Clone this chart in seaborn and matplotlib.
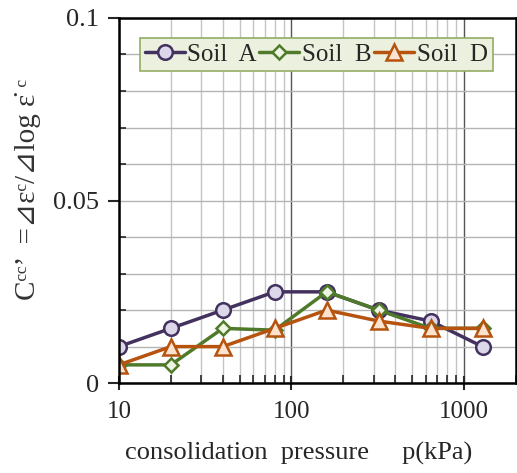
import numpy as np
import pandas as pd
import matplotlib
matplotlib.use('Agg')
import matplotlib.pyplot as plt
import matplotlib.ticker as mticker
import seaborn as sns

# data
pressure = [10, 20, 40, 80, 160, 320, 640, 1280]
soil_a = [0.010, 0.015, 0.020, 0.025, 0.025, 0.020, 0.017, 0.010]
soil_b = [0.005, 0.005, 0.015, 0.0145, 0.025, 0.020, 0.015, 0.015]
soil_d = [0.005, 0.010, 0.010, 0.015, 0.020, 0.017, 0.015, 0.015]

sns.set_style('white')
plt.rcParams['font.family'] = ['Liberation Serif', 'DejaVu Serif', 'DejaVu Sans']

fig = plt.figure(figsize=(5.17, 4.73), dpi=100)
ax = fig.add_axes([0.230, 0.190, 0.768, 0.772])

styles = [
    ('Soil  A', soil_a, 'o', '#43325f', '#ddd7ea', 10.5),
    ('Soil  B', soil_b, 'D', '#4f7a2a', '#eef5e3', 7.5),
    ('Soil  D', soil_d, '^', '#b5530f', '#fde2cd', 11),
]
for name, vals, mk, col, face, ms in styles:
    sns.lineplot(x=pressure, y=vals, ax=ax, label=name, color=col, lw=2.5,
                 marker=mk, markersize=ms, markerfacecolor=face,
                 markeredgecolor=col, markeredgewidth=1.8)

ax.set_xscale('log')
ax.set_xlim(10, 2000)
ax.set_ylim(0, 0.1)

ax.xaxis.set_major_locator(mticker.FixedLocator([10, 100, 1000]))
ax.xaxis.set_major_formatter(mticker.FixedFormatter(['10', '100', '1000']))
ax.xaxis.set_minor_locator(mticker.LogLocator(base=10, subs=np.arange(2, 10)))
ax.xaxis.set_minor_formatter(mticker.NullFormatter())
ax.yaxis.set_major_locator(mticker.FixedLocator([0, 0.05, 0.1]))
ax.yaxis.set_major_formatter(mticker.FixedFormatter(['0', '0.05', '0.1']))
ax.yaxis.set_minor_locator(mticker.MultipleLocator(0.01))

ax.grid(True, axis='x', which='major', color='#555555', lw=1.0)
ax.grid(True, axis='x', which='minor', color='#c4c4c4', lw=1.0)
ax.grid(True, axis='y', which='both', color='#b4b4b4', lw=1.0)
ax.set_axisbelow(True)

ax.tick_params(axis='x', which='major', direction='inout', length=10, width=1.5,
               labelsize=18, pad=8)
ax.tick_params(axis='x', which='minor', direction='in', length=6, width=1.2)
ax.tick_params(axis='y', which='major', direction='out', length=8, width=1.5,
               labelsize=19, pad=6)
ax.tick_params(axis='y', which='minor', direction='in', length=5, width=1.2)
ax.xaxis.set_ticks_position('bottom')
ax.yaxis.set_ticks_position('left')

for side in ['left', 'bottom', 'top', 'right']:
    ax.spines[side].set_color('black')
    ax.spines[side].set_linewidth(1.8)

ax.set_xlabel('consolidation  pressure     p(kPa)', fontsize=19)
ax.xaxis.set_label_coords(0.452, -0.162)
ax.set_ylabel("C\u1d9c\u1d9c\u2019  =\u22bf\u03b5\u1d9c/\u22bflog \u03b5\u0307 \u1d9c",
              fontsize=21, color='#333333')
ax.yaxis.set_label_coords(-0.195, 0.53)

leg = ax.legend(loc='upper center', bbox_to_anchor=(0.497, 0.958), ncol=3,
                fontsize=18, frameon=True, fancybox=False,
                handlelength=1.6, handletextpad=0.1, columnspacing=0.1,
                borderpad=0.2, borderaxespad=0.2)
leg.get_frame().set_facecolor('#ebf1de')
leg.get_frame().set_edgecolor('#93ad62')
leg.get_frame().set_linewidth(1.2)
leg.get_frame().set_alpha(1)

fig.savefig('out.png', dpi=100)
